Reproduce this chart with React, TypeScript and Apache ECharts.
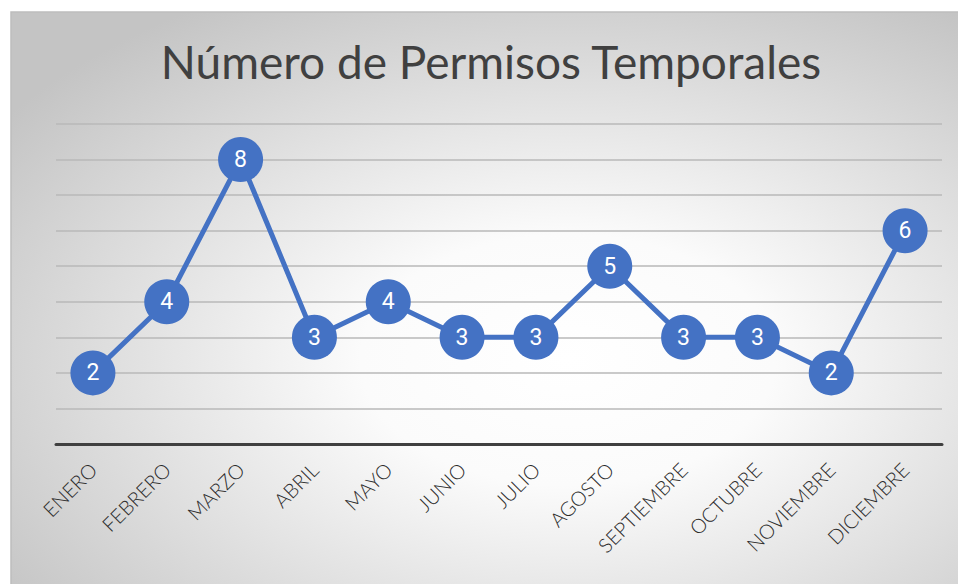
import React, { useEffect, useRef } from "react";
import * as echarts from "echarts";

const months = ["ENERO", "FEBRERO", "MARZO", "ABRIL", "MAYO", "JUNIO", "JULIO", "AGOSTO", "SEPTIEMBRE", "OCTUBRE", "NOVIEMBRE", "DICIEMBRE"];
const permisos = [2, 4, 8, 3, 4, 3, 3, 5, 3, 3, 2, 6];
const chartTitle = "Número de Permisos Temporales";

export default function App() {
  const ref = useRef<HTMLDivElement>(null);
  useEffect(() => {
    if (!ref.current) return;
    const chart = echarts.init(ref.current, null, { renderer: "svg" });
    chart.setOption({
      animation: false,
      graphic: [
        {
          type: "rect",
          z: -10,
          silent: true,
          shape: { x: 11, y: 12, width: 960, height: 580 },
          style: {
            fill: new echarts.graphic.RadialGradient(0.58, 0.6, 0.72, [
              { offset: 0, color: "#ffffff" },
              { offset: 0.3, color: "#fbfbfb" },
              { offset: 1, color: "#c4c4c4" },
            ]),
            stroke: "#bdbdbd",
            lineWidth: 1.5,
          },
        },
      ],
      title: {
        text: chartTitle,
        left: 486,
        textAlign: "center",
        top: 33,
        textStyle: {
          fontFamily: "Lato",
          fontWeight: "normal",
          fontSize: 46,
          color: "#404040",
        },
      },
      grid: { left: 56, right: 16, top: 124, bottom: 140, containLabel: false },
      xAxis: {
        type: "category",
        data: months,
        boundaryGap: true,
        axisLine: { show: true, lineStyle: { color: "#404040", width: 3 } },
        axisTick: { show: false },
        axisLabel: {
          rotate: 45,
          margin: 22,
          fontSize: 20,
          fontWeight: 300,
          fontFamily: "Lato",
          color: "#2b2b2b",
          interval: 0,
        },
      },
      yAxis: {
        type: "value",
        min: 0,
        max: 9,
        interval: 1,
        axisLine: { show: false },
        axisTick: { show: false },
        axisLabel: { show: false },
        splitLine: { lineStyle: { color: "#b8b8b8", width: 1.5 } },
      },
      series: [
        {
          type: "line",
          data: permisos,
          symbol: "circle",
          symbolSize: 45,
          lineStyle: { color: "#4472C4", width: 5 },
          itemStyle: { color: "#4472C4" },
          label: {
            show: true,
            position: "inside",
            color: "#ffffff",
            fontSize: 23,
            fontFamily: "Roboto",
          },
        },
      ],
    });
    return () => chart.dispose();
  }, []);
  return (
    <div style={{ position: "absolute", left: 0, top: 0, width: 958, height: 584, background: "#fff" }}>
      <div ref={ref} style={{ width: 958, height: 584 }} />
    </div>
  );
}
